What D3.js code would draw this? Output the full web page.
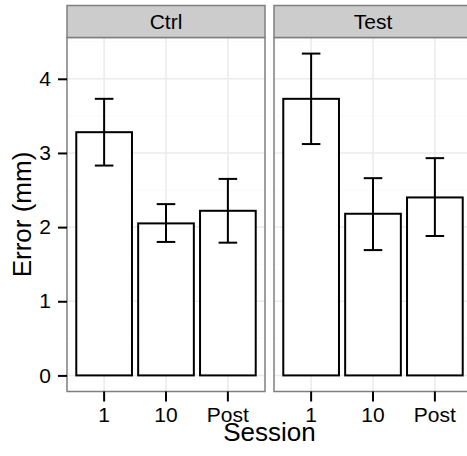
<!DOCTYPE html>
<html>
<head>
<meta charset="utf-8">
<script src="https://cdn.jsdelivr.net/npm/d3@7"></script>
<style>
  body { margin: 0; background: #fff; }
  text { font-family: "Liberation Sans", Arial, sans-serif; fill: #000; }
</style>
</head>
<body>
<div id="chart"></div>
<script>
// data
let groups = ["Ctrl", "Test"];
let sessions = ["1", "10", "Post"];
let ctrlMean = [3.28, 2.05, 2.22];
let ctrlLow = [2.83, 1.80, 1.79];
let ctrlHigh = [3.73, 2.31, 2.65];
let testMean = [3.73, 2.18, 2.40];
let testLow = [3.12, 1.69, 1.88];
let testHigh = [4.34, 2.66, 2.93];
let yTicks = [0, 1, 2, 3, 4];

let totalWidth = 467, totalHeight = 456;
let margin = {top: 5.5, left: 67};
let stripH = 32;
let panelW = 198, gap = 9;
let panelTop = margin.top + stripH, panelBottom = 391.5;
let tickFont = "21px", titleFont = "26px";

let svg = d3.select("#chart").append("svg")
    .attr("width", totalWidth)
    .attr("height", totalHeight);

let rows = [
    {group: groups[0], mean: ctrlMean, low: ctrlLow, high: ctrlHigh},
    {group: groups[1], mean: testMean, low: testLow, high: testHigh}
];

// y scale with ggplot's 5% expansion around 0..max
let yMax = d3.max(rows, r => d3.max(r.high));
let pad = yMax * 0.05;
const yScale = d3.scaleLinear()
    .domain([-pad, yMax + pad])
    .range([panelBottom, panelTop]);

let minorTicks = d3.range(0.5, yMax + pad, 1);

rows.forEach((r, i) => {
    let x0 = margin.left + i * (panelW + gap);
    const xScale = d3.scaleBand()
        .domain(sessions)
        .range([x0, x0 + panelW])
        .paddingInner(0.1)
        .paddingOuter(0.15);
    let step = xScale.step();
    let center = s => xScale(s) + xScale.bandwidth() / 2;

    let g = svg.append("g").attr("class", "panel");

    // gridlines
    g.selectAll("line.minor")
        .data(minorTicks)
        .enter().append("line")
        .attr("x1", x0).attr("x2", x0 + panelW)
        .attr("y1", d => yScale(d)).attr("y2", d => yScale(d))
        .attr("stroke", "#fafafa").attr("stroke-width", 1);

    g.selectAll("line.major-y")
        .data(yTicks)
        .enter().append("line")
        .attr("x1", x0).attr("x2", x0 + panelW)
        .attr("y1", d => yScale(d)).attr("y2", d => yScale(d))
        .attr("stroke", "#ebebeb").attr("stroke-width", 1.5);

    g.selectAll("line.major-x")
        .data(sessions)
        .enter().append("line")
        .attr("x1", d => center(d)).attr("x2", d => center(d))
        .attr("y1", panelTop).attr("y2", panelBottom)
        .attr("stroke", "#ebebeb").attr("stroke-width", 1.5);

    // bars
    g.selectAll("rect.bar")
        .data(sessions)
        .enter().append("rect")
        .attr("class", "bar")
        .attr("x", d => xScale(d))
        .attr("y", (d, j) => yScale(r.mean[j]))
        .attr("width", xScale.bandwidth())
        .attr("height", (d, j) => yScale(0) - yScale(r.mean[j]))
        .attr("fill", "#fff")
        .attr("stroke", "#000")
        .attr("stroke-width", 2);

    // error bars
    let capW = step * 0.3;
    let eb = g.selectAll("g.err")
        .data(sessions)
        .enter().append("g")
        .attr("stroke", "#000")
        .attr("stroke-width", 2);
    eb.append("line")
        .attr("x1", d => center(d)).attr("x2", d => center(d))
        .attr("y1", (d, j) => yScale(r.low[j])).attr("y2", (d, j) => yScale(r.high[j]));
    eb.append("line")
        .attr("x1", d => center(d) - capW / 2).attr("x2", d => center(d) + capW / 2)
        .attr("y1", (d, j) => yScale(r.high[j])).attr("y2", (d, j) => yScale(r.high[j]));
    eb.append("line")
        .attr("x1", d => center(d) - capW / 2).attr("x2", d => center(d) + capW / 2)
        .attr("y1", (d, j) => yScale(r.low[j])).attr("y2", (d, j) => yScale(r.low[j]));

    // panel border
    g.append("rect")
        .attr("x", x0).attr("y", panelTop)
        .attr("width", panelW).attr("height", panelBottom - panelTop)
        .attr("fill", "none").attr("stroke", "#7f7f7f").attr("stroke-width", 1.5);

    // strip
    g.append("rect")
        .attr("x", x0).attr("y", margin.top)
        .attr("width", panelW).attr("height", stripH)
        .attr("fill", "#cccccc").attr("stroke", "#7f7f7f").attr("stroke-width", 1.5);
    g.append("text")
        .attr("x", x0 + panelW / 2)
        .attr("y", margin.top + stripH / 2 + 7.5)
        .attr("text-anchor", "middle")
        .style("font-size", tickFont)
        .text(r.group);

    // x axis
    let xAxis = d3.axisBottom(xScale).tickSize(10).tickPadding(6);
    let ax = svg.append("g")
        .attr("class", "axis x-axis")
        .attr("transform", "translate(0," + panelBottom + ")")
        .call(xAxis);
    ax.select(".domain").remove();
    ax.selectAll(".tick line").attr("stroke", "#000").attr("stroke-width", 2);
    ax.selectAll(".tick text").style("font-size", tickFont).attr("fill", "#000")
        .style("font-family", "Liberation Sans, Arial, sans-serif");
});

// y axis (left panel only)
let yAxis = d3.axisLeft(yScale).tickValues(yTicks).tickFormat(d3.format("d"))
    .tickSize(9).tickPadding(7);
let ay = svg.append("g")
    .attr("class", "axis y-axis")
    .attr("transform", "translate(" + margin.left + ",0)")
    .call(yAxis);
ay.select(".domain").remove();
ay.selectAll(".tick line").attr("stroke", "#000").attr("stroke-width", 2);
ay.selectAll(".tick text").style("font-size", tickFont).attr("fill", "#000")
    .style("font-family", "Liberation Sans, Arial, sans-serif");

// axis titles
svg.append("text")
    .attr("class", "x-label")
    .attr("x", margin.left + panelW + gap / 2)
    .attr("y", 441)
    .attr("text-anchor", "middle")
    .style("font-size", titleFont)
    .text("Session");

svg.append("text")
    .attr("class", "y-label")
    .attr("transform", "translate(31," + (panelTop + panelBottom) / 2 + ") rotate(-90)")
    .attr("text-anchor", "middle")
    .style("font-size", titleFont)
    .text("Error (mm)");
</script>
</body>
</html>
